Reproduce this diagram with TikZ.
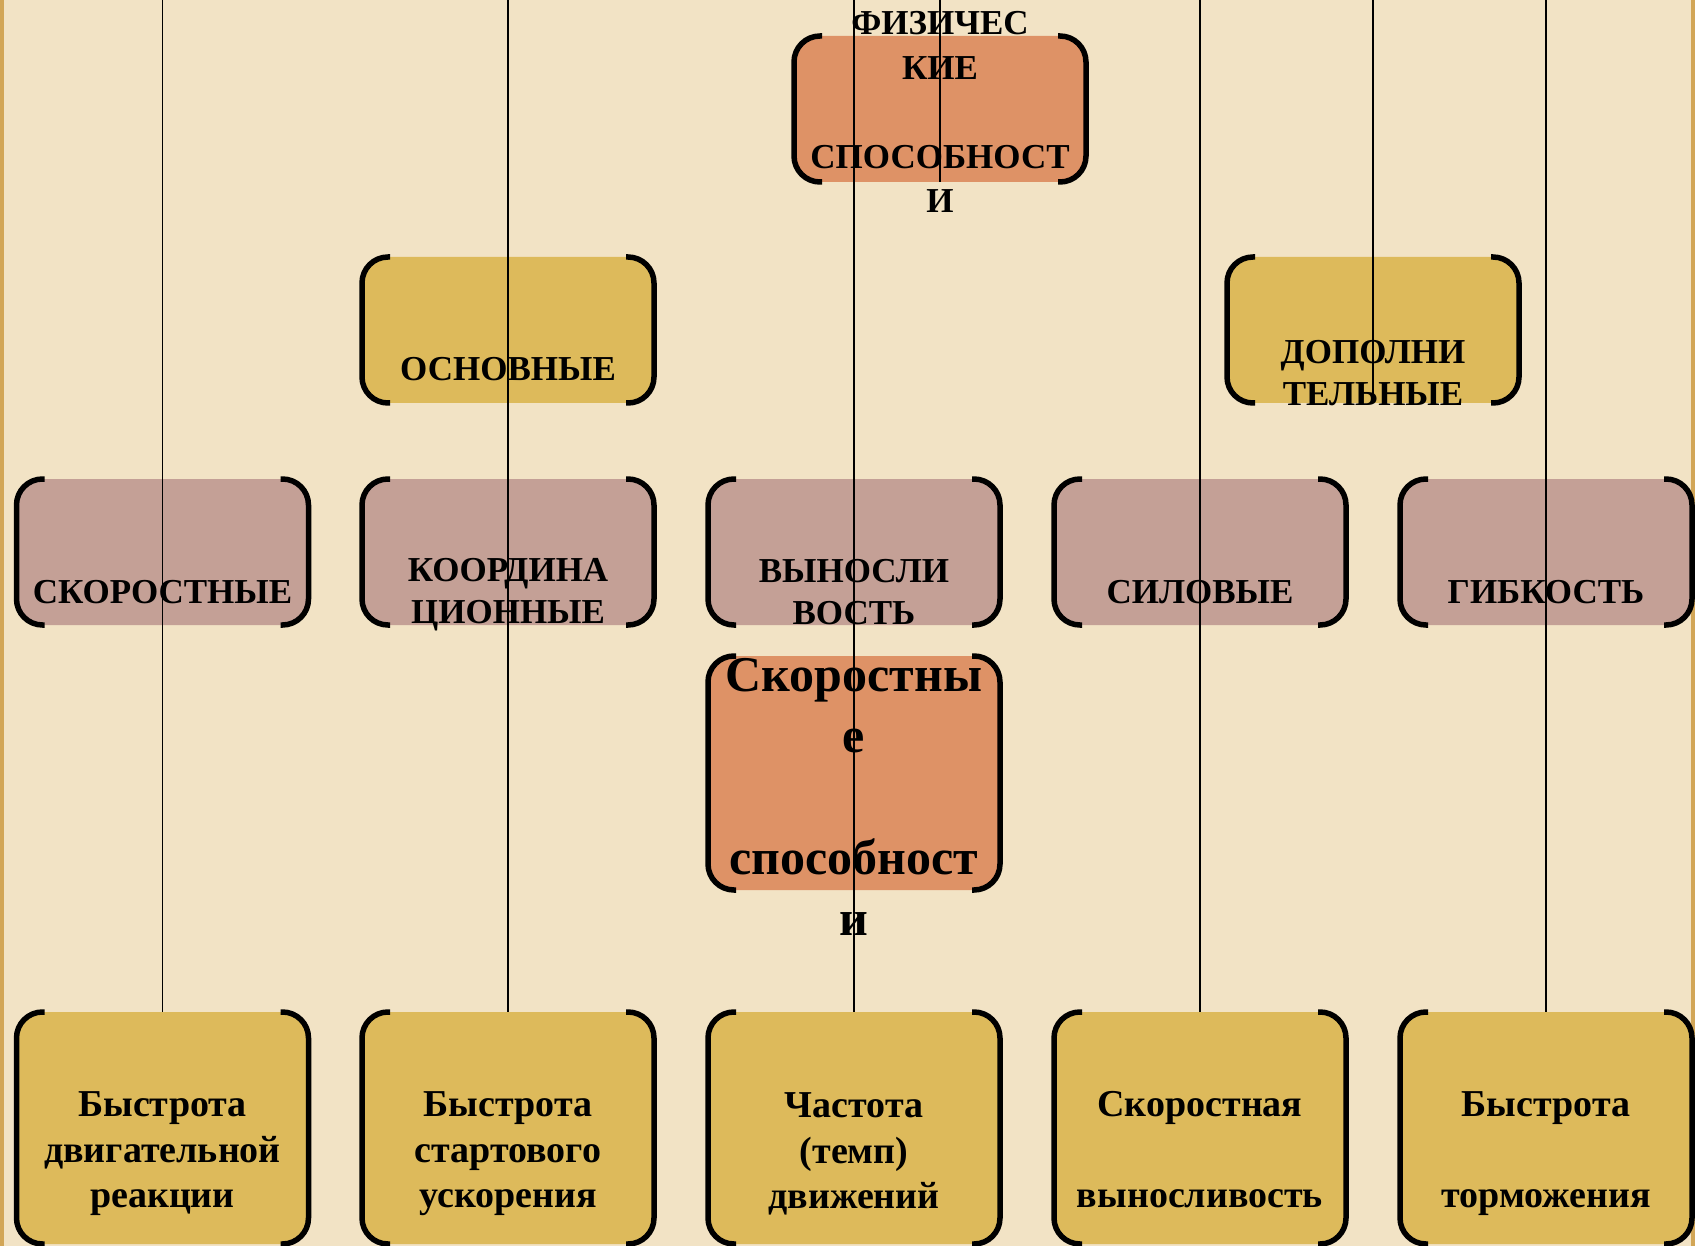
\documentclass[tikz,border=0pt]{standalone}
\usepackage{fontspec}
\setmainfont{Liberation Serif}

\definecolor{parch}{HTML}{F2E3C5}
\definecolor{rim}{HTML}{D2A657}
\definecolor{salmon}{HTML}{DE9266}
\definecolor{mustard}{HTML}{DDBA5B}
\definecolor{mauve}{HTML}{C4A096}

\tikzset{every picture/.style={line width=0.75pt}}
\tikzset{
  brickbox/.style={rectangle, rounded corners=26pt, minimum width=292pt, minimum height=146pt, inner sep=0pt, outer sep=0pt},
  brline/.style={line width=5.5pt, rounded corners=26pt},
  link/.style={line width=1.6pt},
  capsfont/.style={align=center, font=\fontsize{35}{42}\selectfont\bfseries},
  topfont/.style={align=center, font=\fontsize{35}{44.5}\selectfont\bfseries},
  bigfont/.style={align=center, font=\fontsize{50}{61}\selectfont\bfseries},
  lowfont/.style={align=center, font=\fontsize{38}{45.5}\selectfont\bfseries}
}
% side brackets of a box
\newcommand{\brackets}[1]{%
  \draw[brline] ([xshift=28pt]#1.north west) -- (#1.north west) -- (#1.south west) -- ([xshift=28pt]#1.south west);
  \draw[brline] ([xshift=-28pt]#1.north east) -- (#1.north east) -- (#1.south east) -- ([xshift=-28pt]#1.south east);}

\begin{document}
\begin{tikzpicture}[x=1pt,y=1pt,yscale=-1,xscale=1]
	\useasboundingbox (0,0) rectangle (1695,1246);

	%Shape: Rectangle [background]
	\fill[parch] (0,0) rectangle (1695,1246);
	\fill[rim] (0,0) rectangle (4,1246);
	\fill[rim] (1691,0) rectangle (1695,1246);

	%Shape: Box [top]
	\node[brickbox, fill=salmon] (fiz) at (940,109) {};
	\brackets{fiz}
	%Shape: Box [second row]
	\node[brickbox, fill=mustard] (osn) at (508,330) {};
	\brackets{osn}
	\node[brickbox, fill=mustard] (dop) at (1373,330) {};
	\brackets{dop}
	%Shape: Box [third row]
	\node[brickbox, fill=mauve] (skor) at (162.5,552) {};
	\brackets{skor}
	\node[brickbox, fill=mauve] (koord) at (508,552) {};
	\brackets{koord}
	\node[brickbox, fill=mauve] (vyn) at (854,552) {};
	\brackets{vyn}
	\node[brickbox, fill=mauve] (sil) at (1200,552) {};
	\brackets{sil}
	\node[brickbox, fill=mauve] (gib) at (1546,552) {};
	\brackets{gib}
	%Shape: Box [middle]
	\node[brickbox, fill=salmon, minimum height=234pt] (spd) at (854,773) {};
	\brackets{spd}
	%Shape: Box [bottom row]
	\node[brickbox, fill=mustard, minimum height=232pt] (bdr) at (162.5,1128) {};
	\brackets{bdr}
	\node[brickbox, fill=mustard, minimum height=232pt] (bsu) at (508,1128) {};
	\brackets{bsu}
	\node[brickbox, fill=mustard, minimum height=232pt] (chd) at (854,1128) {};
	\brackets{chd}
	\node[brickbox, fill=mustard, minimum height=232pt] (skv) at (1200,1128) {};
	\brackets{skv}
	\node[brickbox, fill=mustard, minimum height=232pt] (bt) at (1546,1128) {};
	\brackets{bt}

	%Straight Lines
	\coordinate (top1) at (162.5,0);
	\coordinate (top2) at (508,0);
	\coordinate (top3) at (854,0);
	\coordinate (top4) at (940,0);
	\coordinate (top5) at (1200,0);
	\coordinate (top6) at (1373,0);
	\coordinate (top7) at (1546,0);
	\draw[link] (top1) -- (bdr.north);
	\draw[link] (top2) -- (bsu.north);
	\draw[link] (top3) -- (chd.north);
	\draw[link] (top4) -- (fiz.south);
	\draw[link] (top5) -- (skv.north);
	\draw[link] (top6) -- (dop.south);
	\draw[link] (top7) -- (bt.north);

	% Text Node
	\node[topfont] (fizT) at (940,112) {ФИЗИЧЕС\\КИЕ\\[44.5pt]СПОСОБНОСТ\\И};
	% Text Node
	\node[capsfont] (osnT) at (508,369) {ОСНОВНЫЕ};
	% Text Node
	\node[capsfont] (dopT) at (1373,373) {ДОПОЛНИ\\ТЕЛЬНЫЕ};
	% Text Node
	\node[capsfont] (skorT) at (162.5,592) {СКОРОСТНЫЕ};
	% Text Node
	\node[capsfont] (koordT) at (508,595) {КООРДИНА\\ЦИОННЫЕ};
	% Text Node
	\node[capsfont] (vynT) at (854,592) {ВЫНОСЛИ\\ВОСТЬ};
	% Text Node
	\node[capsfont] (silT) at (1200,592) {СИЛОВЫЕ};
	% Text Node
	\node[capsfont] (gibT) at (1546,592) {ГИБКОСТЬ};
	% Text Node
	\node[bigfont] (spdT) at (854,797) {Скоростны\\е\\[61pt]способност\\и};
	% Text Node
	\node[lowfont] (bdrT) at (162.5,1154) {Быстрота\\двигательной\\реакции};
	% Text Node
	\node[lowfont] (bsuT) at (508,1154) {Быстрота\\стартового\\ускорения};
	% Text Node
	\node[lowfont] (chdT) at (854,1154) {Частота\\(темп)\\движений};
	% Text Node
	\node[lowfont] (skvT) at (1200,1150) {Скоростная\\[45.5pt]выносливость};
	% Text Node
	\node[lowfont] (btT) at (1546,1154) {Быстрота\\[45.5pt]торможения};

\end{tikzpicture}
\end{document}
